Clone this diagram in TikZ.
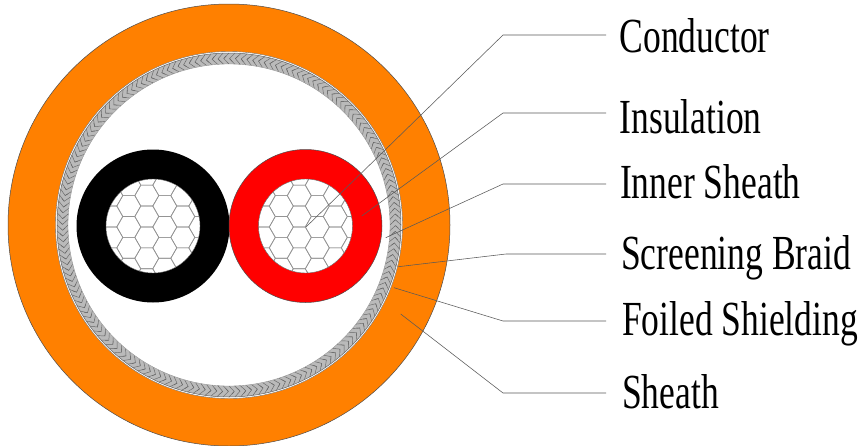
\documentclass[tikz,border=0pt]{standalone}
\usepackage{fontspec}
\setmainfont{Liberation Serif}
\usetikzlibrary{calc}
\tikzset{
  lab/.style={anchor=base west,font=\fontsize{49}{49}\selectfont,inner sep=0pt,xscale=.725,transform shape,text=black},
  leader/.style={draw=black!65,line width=.55pt},
  ringedge/.style={draw=black!70,line width=.5pt},
  hexline/.style={draw=black!42,line width=.65pt},
  braidline/.style={draw=black!60,line width=.45pt}
}
\definecolor{sheathc}{RGB}{255,128,0}
\definecolor{braidc}{RGB}{186,186,186}
\newcommand{\hexgrid}[2]{%
  \begin{scope}
    \clip (#1,#2) circle (47);
    \foreach \c in {-4,...,4}{
      \foreach \r in {-4,...,4}{
        \pgfmathsetmacro{\hx}{#1-6.2+18*\c}
        \pgfmathsetmacro{\hy}{#2-9.5+20.9*\r+(mod(abs(\c),2)==1?10.45:0)}
        \draw[hexline] (\hx-12,\hy) -- (\hx-6,\hy-10.45) -- (\hx+6,\hy-10.45) -- (\hx+12,\hy) -- (\hx+6,\hy+10.45) -- (\hx-6,\hy+10.45) -- cycle;
      }
    }
  \end{scope}
}
\begin{document}
\begin{tikzpicture}[x=1pt,y=-1pt]
\useasboundingbox (0,0) rectangle (863,445);
\fill[white] (0,0) rectangle (863,445);
\begin{scope}
\clip (0,0) rectangle (863,445);
% sheath
\fill[sheathc] (229,225) circle (221);
\draw[ringedge] (229,225) circle (221);
\fill[white] (229,225) circle (173.5);
\draw[black!55,line width=.4pt] (229,225) circle (173.5);
% braid
\fill[braidc] (229,225) circle (172);
\draw[black!60,line width=.5pt] (229,225) circle (172);
\begin{scope}[shift={(229,225)},y=1pt]
\foreach \k in {0,...,179}{
  \pgfmathsetmacro{\a}{\k*2}
  \pgfmathsetmacro{\m}{\a+1.8}
  \pgfmathsetmacro{\n}{\a+1}
  \draw[braidline] (\a:172) -- (\m:166.5) -- (\a:161);
  \ifodd\k
    \draw[braidline] (\m:166.5) -- (\n:169.2);
  \else
    \draw[braidline] (\m:166.5) -- (\n:163.8);
  \fi
}
\end{scope}
\fill[white] (229,225) circle (161);
\draw[black!45,line width=.35pt] (229,225) circle (161);
\end{scope}
% black core
\fill[black] (153,226) circle (76.5);
\fill[white] (153,226) circle (47);
\hexgrid{153}{226}
\draw[black!60,line width=.4pt] (153,226) circle (47);
% red core
\fill[red] (305.5,226) circle (76.5);
\draw[ringedge] (305.5,226) circle (76.5);
\fill[white] (305.5,226) circle (47);
\hexgrid{305.5}{226}
\draw[black!60,line width=.4pt] (305.5,226) circle (47);
% labels
\node[lab] (tcond) at (619.5,52) {Conductor};
\node[lab] (tins) at (619.5,133) {Insulation};
\node[lab] (tinner) at (620,198) {Inner Sheath};
\node[lab] (tbraid) at (621,269) {Screening Braid};
\node[lab] (tfoil) at (622,335) {Foiled Shielding};
\node[lab] (tsheath) at (622,408) {Sheath};
% leaders
\coordinate (pcond) at (306,227);
\coordinate (econd) at (503,35);
\coordinate (pins) at (361.7,216);
\coordinate (eins) at (503,113);
\coordinate (pinner) at (385.7,237.7);
\coordinate (einner) at (503,184);
\coordinate (pbraid) at (398.3,266.7);
\coordinate (ebraid) at (506,254);
\coordinate (pfoil) at (394,287.7);
\coordinate (efoil) at (503,321);
\coordinate (psheath) at (400.7,314);
\coordinate (esheath) at (503,393);
\draw[leader] (pcond) -- (econd) -- ($(econd -| tcond.west)+(-13.5,0)$);
\draw[leader] (pins) -- (eins) -- ($(eins -| tins.west)+(-13.5,0)$);
\draw[leader] (pinner) -- (einner) -- ($(einner -| tinner.west)+(-14,0)$);
\draw[leader] (pbraid) -- (ebraid) -- ($(ebraid -| tbraid.west)+(-15,0)$);
\draw[leader] (pfoil) -- (efoil) -- ($(efoil -| tfoil.west)+(-16,0)$);
\draw[leader] (psheath) -- (esheath) -- ($(esheath -| tsheath.west)+(-16,0)$);
\end{tikzpicture}
\end{document}
